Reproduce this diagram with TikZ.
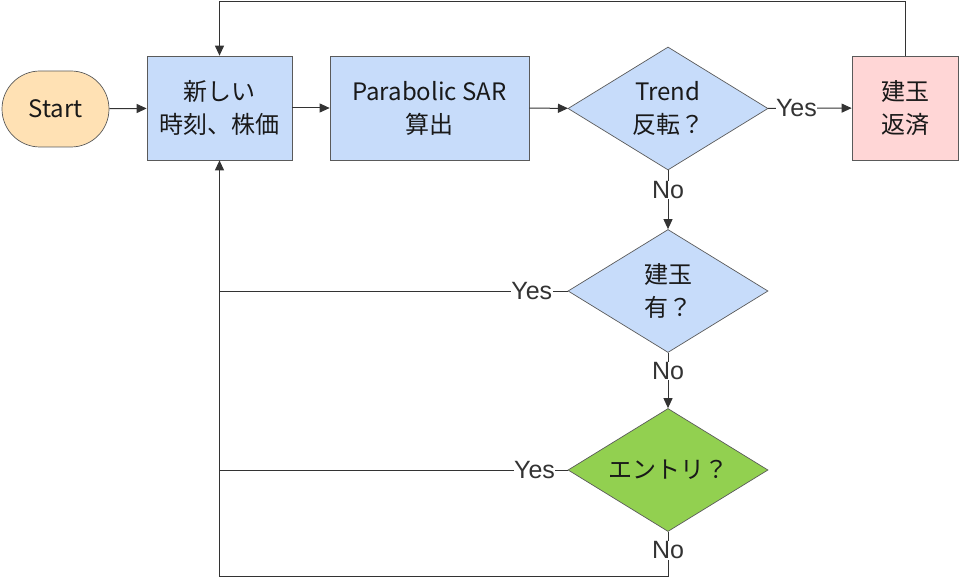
\documentclass[tikz,border=0pt]{standalone}
\usepackage{fontspec}
\setmainfont{Noto Sans CJK JP}
\newfontfamily\labfont{Liberation Sans}
\usetikzlibrary{shapes.geometric,arrows.meta}
\definecolor{startfill}{RGB}{255,225,180}
\definecolor{bluefill}{RGB}{199,220,250}
\definecolor{pinkfill}{RGB}{255,214,214}
\definecolor{greenfill}{RGB}{146,208,80}
\definecolor{linec}{RGB}{51,51,51}
\definecolor{borderc}{RGB}{90,90,90}
\begin{document}
\begin{tikzpicture}[x=1pt,y=-1pt,
  txt/.style={font=\fontsize{24}{33}\selectfont, text=black!90, align=center},
  box/.style={txt, draw=borderc, line width=0.7pt, minimum width=145pt, minimum height=104pt, inner sep=0pt},
  dia/.style={diamond, draw=borderc, line width=0.7pt, minimum width=200pt, minimum height=123pt, inner sep=0pt},
  arr/.style={draw=linec, line width=1pt, -{Triangle[length=10pt,width=9pt]}},
  conn/.style={draw=linec, line width=1pt},
  lab/.style={fill=white, inner sep=0.5pt, text=linec, font=\labfont\fontsize{25}{28}\selectfont}
]
\useasboundingbox (0,0) rectangle (960,577);
\node[txt, draw=borderc, line width=0.7pt, fill=startfill, rounded corners=38pt, minimum width=107pt, minimum height=76pt, inner sep=0pt] (start) at (55.5,109) {Start};
\node[box, fill=bluefill] (b1) at (219.5,108) {新しい\\時刻、株価};
\node[box, fill=bluefill, minimum width=199pt] (b2) at (429.5,108) {Parabolic SAR\\算出};
\node[dia, fill=bluefill] (d1) at (668,108.5) {};
\node[txt] (d1t) at (d1) {Trend\\反転？};
\node[box, fill=pinkfill, minimum width=106pt] (b3) at (905,108) {建玉\\返済};
\node[dia, fill=bluefill] (d2) at (668,291) {};
\node[txt] (d2t) at (d2) {建玉\\有？};
\node[dia, fill=greenfill] (d3) at (668,470) {};
\node[txt] (d3t) at (d3) {エントリ？};
\coordinate (tr) at (905,2);
\coordinate (tl) at (219.5,2);
\coordinate (bl) at (219.5,576);
\coordinate (br) at (668,576);
\coordinate (y2) at (219.5,291);
\coordinate (y3) at (219.5,470);
\draw[arr] (start) -- (b1);
\draw[arr] (b1) -- (b2);
\draw[arr] (b2) -- (d1);
\draw[arr] (d1) -- node[lab, pos=0.34]{Yes} (b3);
\draw[arr] (d1) -- node[lab, pos=0.33]{No} (d2);
\draw[arr] (d2) -- node[lab, pos=0.33]{No} (d3);
\draw[arr] (b3.north) -- (tr) -- (tl) -- (b1.north);
\draw[conn] (d2.west) -- node[lab, pos=0.103]{Yes} (y2);
\draw[conn] (d3.west) -- node[lab, pos=0.095]{Yes} (y3);
\draw[arr] (d3.south) -- node[lab, pos=0.42]{No} (br) -- (bl) -- (b1.south);
\end{tikzpicture}
\end{document}
